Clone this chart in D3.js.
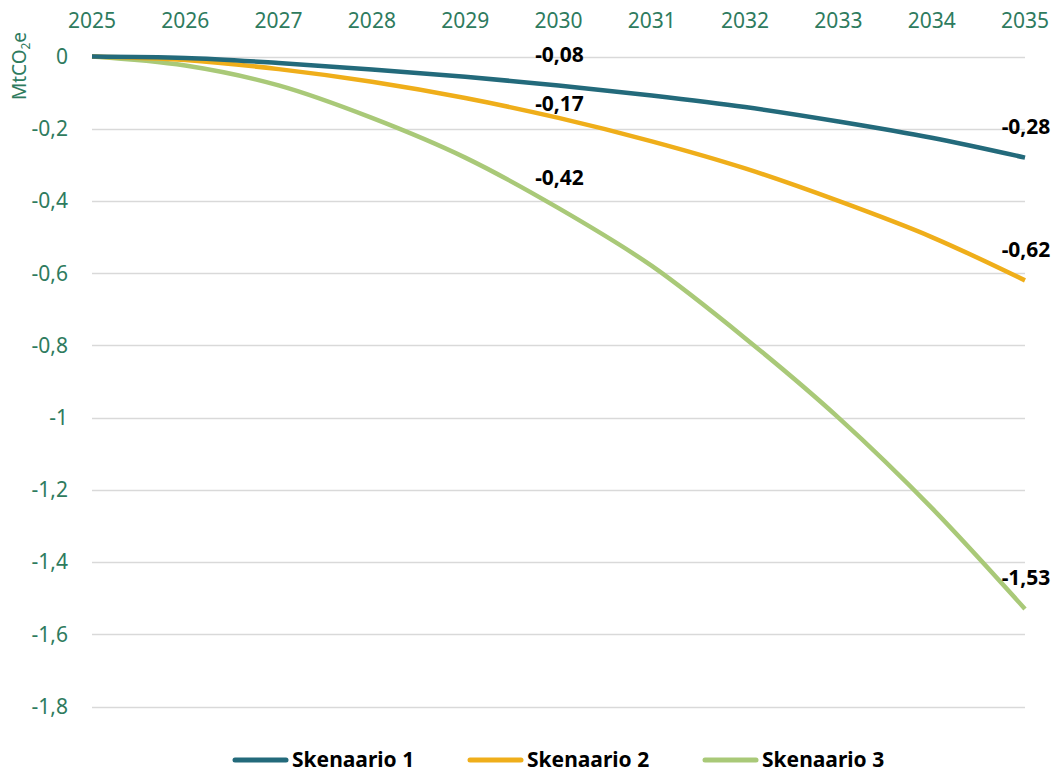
<!DOCTYPE html>
<html>
<head>
<meta charset="utf-8">
<script src="https://cdn.jsdelivr.net/npm/d3@7"></script>
<style>
  body { margin: 0; background: #fff; }
  svg { font-family: "Noto Sans", "Open Sans", sans-serif; }
</style>
</head>
<body>
<svg width="1058" height="773"></svg>
<script>
// vuodet ja skenaariot
const years = [2025, 2026, 2027, 2028, 2029, 2030, 2031, 2032, 2033, 2034, 2035];
const seriesNames = ["Skenaario 1", "Skenaario 2", "Skenaario 3"];
const skenaario1 = [0, -0.004, -0.018, -0.036, -0.056, -0.08, -0.108, -0.14, -0.18, -0.225, -0.28];
const skenaario2 = [0, -0.01, -0.035, -0.07, -0.115, -0.17, -0.235, -0.31, -0.4, -0.5, -0.62];
const skenaario3 = [0, -0.025, -0.08, -0.17, -0.28, -0.42, -0.58, -0.78, -1.0, -1.25, -1.53];
const yTicks = [0, -0.2, -0.4, -0.6, -0.8, -1, -1.2, -1.4, -1.6, -1.8];
const labelYears = [2030, 2035]; // näihin vuosiin arvolaput
const colors = ["#236a7b", "#efae1a", "#a9c978"];

const svg = d3.select("svg");
const textColor = "#2e7b5e";

const x = d3.scaleLinear().domain([2025, 2035]).range([92, 1025]);
const y = d3.scaleLinear().domain([0, -1.8]).range([56.5, 706.5]);

const fmt = d => String(+d.toFixed(2)).replace(".", ",");

// vaakaviivat
svg.append("g")
  .selectAll("line")
  .data(yTicks)
  .enter().append("line")
  .attr("x1", x(2025)).attr("x2", x(2035))
  .attr("y1", d => Math.round(y(d)) + 0.5)
  .attr("y2", d => Math.round(y(d)) + 0.5)
  .attr("stroke", "#d9d9d9")
  .attr("stroke-width", 1.3);

// y-akselin luvut
svg.append("g")
  .selectAll("text")
  .data(yTicks)
  .enter().append("text")
  .attr("x", 68)
  .attr("y", d => y(d))
  .attr("dy", "0.35em")
  .attr("text-anchor", "end")
  .attr("fill", textColor)
  .style("font-size", "21px")
  .text(fmt);

// x-akseli ylhäällä
svg.append("g")
  .selectAll("text")
  .data(years)
  .enter().append("text")
  .attr("x", d => x(d))
  .attr("y", 28)
  .attr("text-anchor", "middle")
  .attr("fill", textColor)
  .style("font-size", "21px")
  .text(d => d);

// yksikkö
const unit = svg.append("text")
  .attr("transform", "translate(26,66) rotate(-90)")
  .attr("text-anchor", "middle")
  .attr("fill", textColor)
  .style("font-size", "19px");
unit.append("tspan").text("MtCO");
unit.append("tspan").attr("dy", 4).style("font-size", "12px").text("2");
unit.append("tspan").attr("dy", -4).text("e");

const data = [skenaario1, skenaario2, skenaario3].map((vals, i) => ({
  name: seriesNames[i],
  color: colors[i],
  values: vals.map((v, j) => ({ year: years[j], value: v }))
}));

const line = d3.line()
  .x(d => x(d.year))
  .y(d => y(d.value))
  .curve(d3.curveMonotoneX);

// piirretään viivat, vihreä alimmaiseksi
svg.append("g")
  .selectAll("path")
  .data(data.slice().reverse())
  .enter().append("path")
  .attr("d", d => line(d.values))
  .attr("fill", "none")
  .attr("stroke", d => d.color)
  .attr("stroke-width", 4.5);

// arvolaput
const labels = [];
data.forEach((s, i) => {
  s.values.filter(p => labelYears.includes(p.year)).forEach(p => {
    // skenaario 2:n 2030 lappu on siirretty lähemmäs viivaa
    const off = (i === 1 && p.year === 2030) ? 14 : 31;
    labels.push({ year: p.year, value: p.value, off: off });
  });
});

svg.append("g")
  .selectAll("text")
  .data(labels)
  .enter().append("text")
  .attr("x", d => x(d.year) + 1)
  .attr("y", d => y(d.value) - d.off)
  .attr("dy", "0.35em")
  .attr("text-anchor", "middle")
  .attr("fill", "#000")
  .style("font-size", "21px")
  .style("font-weight", "bold")
  .text(d => fmt(d.value));

// selite
const legendX = [233, 468, 703];
const legend = svg.append("g")
  .selectAll("g")
  .data(data)
  .enter().append("g")
  .attr("transform", (d, i) => "translate(" + legendX[i] + ",760)");

legend.append("line")
  .attr("x1", 2).attr("x2", 53)
  .attr("stroke", d => d.color)
  .attr("stroke-width", 5)
  .attr("stroke-linecap", "round");

legend.append("text")
  .attr("x", 59)
  .attr("dy", "0.35em")
  .attr("fill", "#000")
  .style("font-size", "21px")
  .style("font-weight", "bold")
  .text(d => d.name);
</script>
</body>
</html>
